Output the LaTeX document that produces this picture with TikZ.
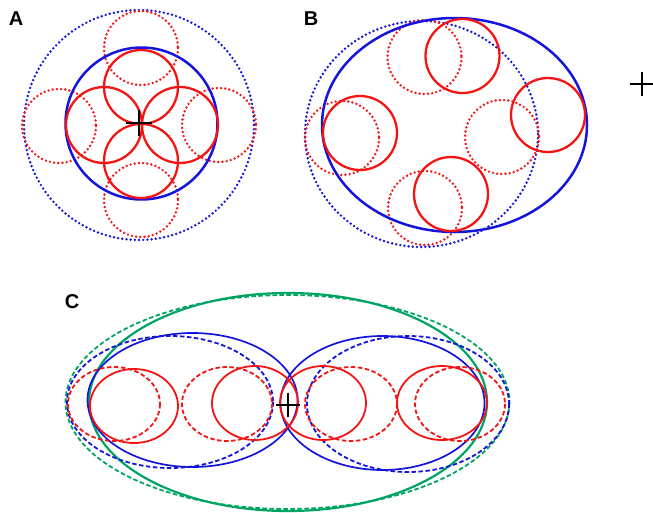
\documentclass[tikz,border=0pt]{standalone}
\usepackage{fontspec}
\setmainfont{Liberation Sans}
\definecolor{cred}{RGB}{245,20,20}
\definecolor{cblue}{RGB}{20,20,220}
\definecolor{cgreen}{RGB}{0,165,100}
\begin{document}
\begin{tikzpicture}[x=1pt,y=-1pt,
  redsolid/.style={draw=cred,line width=2.3pt},
  reddot/.style={draw=cred,line width=2.7pt,line cap=round,dash pattern=on 0pt off 4.2pt},
  bluesolid/.style={draw=cblue,line width=2.5pt},
  bluedot/.style={draw=cblue,line width=2.7pt,line cap=round,dash pattern=on 0pt off 4.2pt},
  redthin/.style={draw=cred,line width=1.8pt},
  reddash/.style={draw=cred,line width=1.8pt,dash pattern=on 4.5pt off 2.5pt},
  bluethin/.style={draw=cblue,line width=1.7pt},
  bluedash/.style={draw=cblue,line width=1.8pt,dash pattern=on 4.5pt off 2.5pt},
  greensolid/.style={draw=cgreen,line width=2.2pt},
  greendash/.style={draw=cgreen,line width=1.8pt,dash pattern=on 4.5pt off 2.5pt},
  crossline/.style={draw=black,line width=2pt},
  panellabel/.style={font=\bfseries\fontsize{20}{20}\selectfont,inner sep=0pt}]
\useasboundingbox (0,0) rectangle (653,512);

% ---------- Panel A ----------
\node[panellabel] (la) at (16,19) {A};
\draw[bluedot] (139,125) circle[radius=115];
\draw[reddot] (141,48) circle[radius=37];
\draw[reddot] (141,200) circle[radius=37];
\draw[reddot] (59,126) circle[radius=37];
\draw[reddot] (219,125) circle[radius=37];
\draw[bluesolid] (141.5,123.5) circle[radius=76];
\draw[redsolid] (141,87) circle[radius=37];
\draw[redsolid] (141,161) circle[radius=37];
\draw[redsolid] (104,125) circle[radius=38];
\draw[redsolid] (180,125) circle[radius=38];
\coordinate (ca) at (139,123);
\draw[crossline] ([xshift=-13pt]ca) -- ([xshift=13pt]ca);
\draw[crossline] ([yshift=-13pt]ca) -- ([yshift=13pt]ca);

% ---------- Panel B ----------
\node[panellabel] (lb) at (311,19) {B};
\draw[bluedot] (421.5,134) ellipse[x radius=116.5,y radius=113];
\draw[reddot] (424.5,57) circle[radius=37];
\draw[reddot] (342,138) circle[radius=37];
\draw[reddot] (502,137) circle[radius=37];
\draw[reddot] (425,208) circle[radius=37];
\draw[bluesolid] (454.5,125) ellipse[x radius=132.5,y radius=107];
\draw[redsolid] (462.5,56) circle[radius=37];
\draw[redsolid] (360,133) circle[radius=37];
\draw[redsolid] (548,115) circle[radius=37];
\draw[redsolid] (451,194) circle[radius=37];
\coordinate (cb) at (642,84);
\draw[crossline] ([xshift=-12pt]cb) -- ([xshift=12pt]cb);
\draw[crossline] ([yshift=-12pt]cb) -- ([yshift=12pt]cb);

% ---------- Panel C ----------
\node[panellabel] (lc) at (72,302) {C};
\draw[greendash] (287.5,402) ellipse[x radius=222,y radius=107];
\draw[greensolid] (288,402) ellipse[x radius=199,y radius=109];
\draw[bluedash] (170,402) ellipse[x radius=103,y radius=66];
\draw[bluedash] (408,404) ellipse[x radius=101,y radius=68];
\draw[bluethin] (192.5,400) ellipse[x radius=105,y radius=67];
\draw[bluethin] (382.5,403) ellipse[x radius=102,y radius=67];
\draw[reddash] (114,404) ellipse[x radius=46,y radius=37];
\draw[reddash] (227,404) ellipse[x radius=45,y radius=37];
\draw[reddash] (351,404) ellipse[x radius=46,y radius=37];
\draw[reddash] (460,404) ellipse[x radius=45,y radius=37];
\draw[redthin] (134,406) ellipse[x radius=44,y radius=37];
\draw[redthin] (255,403) ellipse[x radius=43,y radius=37];
\draw[redthin] (323,403) ellipse[x radius=43,y radius=37];
\draw[redthin] (442,403) ellipse[x radius=45,y radius=37];
\coordinate (cc) at (288,405);
\draw[crossline] ([xshift=-12pt]cc) -- ([xshift=12pt]cc);
\draw[crossline] ([yshift=-12pt]cc) -- ([yshift=12pt]cc);
\end{tikzpicture}
\end{document}
